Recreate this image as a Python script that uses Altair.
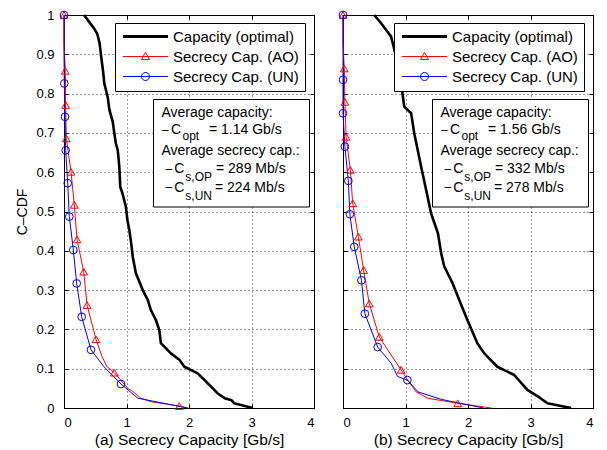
import altair as alt
import pandas as pd

FONT = "Liberation Sans"
SERIES = ["Capacity (optimal)", "Secrecy Cap. (AO)", "Secrecy Cap. (UN)"]
COLORS = ["black", "red", "blue"]
X_TICKS = [0, 1, 2, 3, 4]
Y_TICKS = [0, 0.1, 0.2, 0.3, 0.4, 0.5, 0.6, 0.7, 0.8, 0.9, 1]
Y_TITLE = "C\u2013CDF"

# ---------------- panel (a) ----------------
A_TITLE = "(a) Secrecy Capacity [Gb/s]"
A_CAP_X = [0.32, 0.48, 0.53, 0.57, 0.59, 0.625, 0.645, 0.70, 0.725, 0.78, 0.805, 0.83, 0.86, 0.885,
           0.90, 0.935, 0.99, 1.015, 1.045, 1.075, 1.10, 1.15, 1.26, 1.34, 1.39, 1.47, 1.525, 1.55,
           1.71, 1.85, 1.925, 2.14, 2.30, 2.46, 2.57, 2.68, 2.72, 3.02]
A_CAP_Y = [1.0, 0.966, 0.953, 0.928, 0.90, 0.857, 0.826, 0.79, 0.760, 0.728, 0.699, 0.673, 0.656, 0.614,
           0.563, 0.546, 0.512, 0.478, 0.453, 0.419, 0.385, 0.343, 0.30, 0.275, 0.249, 0.224, 0.198, 0.165,
           0.139, 0.122, 0.105, 0.088, 0.063, 0.037, 0.025, 0.020, 0.012, 0.0]
A_AO_X = [0.0, 0.0, 0.02, 0.027, 0.037, 0.112, 0.165, 0.208, 0.315, 0.368, 0.512, 0.61, 0.69, 0.805,
          1.02, 1.10, 1.23, 1.39, 1.845, 1.98]
A_AO_Y = [1.0, 0.93, 0.858, 0.771, 0.686, 0.601, 0.517, 0.429, 0.347, 0.262, 0.175, 0.13, 0.105, 0.090,
          0.05, 0.042, 0.025, 0.016, 0.005, 0.0]
A_AOM_X = [0.0, 0.02, 0.027, 0.037, 0.112, 0.165, 0.208, 0.315, 0.368, 0.512, 0.805, 1.845]
A_AOM_Y = [1.0, 0.858, 0.771, 0.686, 0.601, 0.517, 0.429, 0.347, 0.262, 0.175, 0.090, 0.005]
A_UN_X = [0.0, 0.0, 0.005, 0.016, 0.027, 0.059, 0.085, 0.149, 0.203, 0.283, 0.432, 0.64, 0.912,
          1.18, 1.98]
A_UN_Y = [1.0, 0.9, 0.826, 0.741, 0.656, 0.572, 0.487, 0.402, 0.317, 0.232, 0.148, 0.105, 0.061,
          0.025, 0.0]
A_UNM_X = [0.0, 0.005, 0.016, 0.027, 0.059, 0.085, 0.149, 0.203, 0.283, 0.432, 0.912]
A_UNM_Y = [1.0, 0.826, 0.741, 0.656, 0.572, 0.487, 0.402, 0.317, 0.232, 0.148, 0.061]
A_NOTES = ["Average capacity:", "= 1.14 Gb/s", "Average secrecy cap.:", "= 289 Mb/s", "= 224 Mb/s"]

# ---------------- panel (b) ----------------
B_TITLE = "(b) Secrecy Capacity [Gb/s]"
B_CAP_X = [0.50, 0.61, 0.77, 0.85, 0.93, 0.98, 1.09, 1.14, 1.25, 1.33, 1.41, 1.52, 1.57, 1.62,
           1.755, 1.86, 1.99, 2.15, 2.26, 2.47, 2.74, 2.95, 3.16, 3.27, 3.65]
B_CAP_Y = [1.0, 0.979, 0.945, 0.894, 0.826, 0.767, 0.75, 0.699, 0.614, 0.555, 0.495, 0.444, 0.394, 0.36,
           0.317, 0.275, 0.224, 0.165, 0.139, 0.105, 0.084, 0.046, 0.025, 0.012, 0.0]
B_AO_X = [0.0, 0.0, 0.02, 0.03, 0.05, 0.117, 0.155, 0.245, 0.33, 0.42, 0.58, 0.715, 0.93, 1.035,
          1.17, 1.355, 1.835, 2.37]
B_AO_Y = [1.0, 0.93, 0.864, 0.779, 0.690, 0.606, 0.521, 0.436, 0.351, 0.266, 0.181, 0.148, 0.097, 0.071,
          0.041, 0.025, 0.012, 0.0]
B_AOM_X = [0.0, 0.02, 0.03, 0.05, 0.117, 0.155, 0.245, 0.33, 0.42, 0.58, 0.93, 1.835]
B_AOM_Y = [1.0, 0.864, 0.779, 0.690, 0.606, 0.521, 0.436, 0.351, 0.266, 0.181, 0.097, 0.012]
B_UN_X = [0.0, 0.0, 0.0, 0.03, 0.085, 0.11, 0.18, 0.295, 0.35, 0.555, 0.77, 0.875, 1.03, 1.2, 1.57, 2.25]
B_UN_Y = [1.0, 0.835, 0.75, 0.665, 0.578, 0.493, 0.41, 0.325, 0.24, 0.155, 0.114, 0.08, 0.071, 0.041,
          0.022, 0.0]
B_UNM_X = [0.0, 0.0, 0.0, 0.03, 0.085, 0.11, 0.18, 0.295, 0.35, 0.555, 1.03]
B_UNM_Y = [1.0, 0.835, 0.75, 0.665, 0.578, 0.493, 0.41, 0.325, 0.24, 0.155, 0.071]
B_NOTES = ["Average capacity:", "= 1.56 Gb/s", "Average secrecy cap.:", "= 332 Mb/s", "= 278 Mb/s"]

SUBS = ["opt", "s,OP", "s,UN"]
DASH = "\u2013"
C = "C"

LEGEND_SHAPES = [
    "M-4.5,-0.2L4.5,-0.2M-4.5,0L4.5,0M-4.5,0.2L4.5,0.2",
    "M-4.5,0L4.5,0M0,-0.85L0.8,0.6L-0.8,0.6Z",
    "M-4.5,0L4.5,0M-0.8,0A0.8,0.8 0 1,0 0.8,0A0.8,0.8 0 1,0 -0.8,0",
]


def frame(xs, ys):
    return pd.DataFrame({"x": xs, "y": ys, "i": list(range(len(xs)))})


ONE = pd.DataFrame({"k": [0]})


def text(s, x, y, size=14):
    return alt.Chart(ONE).mark_text(
        align="left", baseline="alphabetic", font=FONT, fontSize=size, color="black"
    ).encode(x=alt.value(x), y=alt.value(y), text=alt.value(s))


def tick_axis(orient, values):
    return alt.Axis(orient=orient, values=values, grid=False, ticks=True, tickSize=4,
                    tickColor="black", tickWidth=1, offset=-4, domain=False, labels=False, title=None)


def panel(cap, ao, aom, un, unm, notes, xtitle, ylabels):
    xs = alt.Scale(domain=[0, 4], nice=False, zero=False)
    ys = alt.Scale(domain=[0, 1], nice=False, zero=False)
    main_x = alt.Axis(orient="bottom", values=X_TICKS, grid=True, gridColor="black", gridDash=[1, 3],
                      gridOpacity=0.8, gridWidth=1, ticks=False, domain=False, labels=True,
                      labelFontSize=13, labelPadding=8, labelFont=FONT, labelColor="black",
                      title=xtitle, titleFont=FONT, titleFontSize=15.5, titleFontWeight="normal",
                      titleColor="black", titlePadding=3)
    if ylabels:
        main_y = alt.Axis(orient="left", values=Y_TICKS, grid=True, gridColor="black", gridDash=[1, 3],
                          gridOpacity=0.8, gridWidth=1, ticks=False, domain=False, labels=True,
                          format="~g", labelFontSize=13, labelPadding=10, labelFont=FONT,
                          labelColor="black", title=Y_TITLE, titleFont=FONT, titleFontSize=14,
                          titleFontWeight="normal", titleColor="black", titlePadding=6)
    else:
        main_y = alt.Axis(orient="left", values=Y_TICKS, grid=True, gridColor="black", gridDash=[1, 3],
                          gridOpacity=0.8, gridWidth=1, ticks=False, domain=False, labels=False,
                          title=None)

    cap_l = alt.Chart(frame(*cap)).mark_line(color="black", strokeWidth=2.6, strokeJoin="round").encode(
        x=alt.X("x:Q", scale=xs, axis=main_x), y=alt.Y("y:Q", scale=ys, axis=main_y), order="i:Q")
    ao_l = alt.Chart(frame(*ao)).mark_line(color="red", strokeWidth=1).encode(
        x=alt.X("x:Q", scale=xs, axis=tick_axis("bottom", X_TICKS)),
        y=alt.Y("y:Q", scale=ys, axis=tick_axis("left", Y_TICKS)), order="i:Q")
    un_l = alt.Chart(frame(*un)).mark_line(color="blue", strokeWidth=1).encode(
        x=alt.X("x:Q", scale=xs, axis=tick_axis("top", X_TICKS)),
        y=alt.Y("y:Q", scale=ys, axis=tick_axis("right", Y_TICKS)), order="i:Q")
    ao_m = alt.Chart(frame(*aom)).mark_point(shape="triangle-up", filled=False, color="red", size=60,
                                             strokeWidth=1, opacity=1).encode(
        x=alt.X("x:Q", scale=xs, axis=None), y=alt.Y("y:Q", scale=ys, axis=None))
    un_m = alt.Chart(frame(*unm)).mark_point(shape="circle", filled=False, color="blue", size=60,
                                             strokeWidth=1, opacity=1).encode(
        x=alt.X("x:Q", scale=xs, axis=None), y=alt.Y("y:Q", scale=ys, axis=None))

    leg_df = pd.DataFrame({"series": SERIES, "x": [cap[0][0], ao[0][0], un[0][0]],
                           "y": [cap[1][0], ao[1][0], un[1][0]]})
    legend = alt.Legend(title=None, orient="none", legendX=51, legendY=8, direction="vertical",
                        fillColor="white", strokeColor="black", padding=6, symbolSize=100,
                        symbolStrokeWidth=1, symbolOpacity=1, symbolOffset=17, labelOffset=20,
                        labelFont=FONT, labelFontSize=15, labelColor="black", labelLimit=400,
                        rowPadding=4, symbolFillColor="transparent")
    leg_l = alt.Chart(leg_df).mark_point(filled=False, opacity=0).encode(
        x=alt.X("x:Q", scale=xs, axis=None), y=alt.Y("y:Q", scale=ys, axis=None),
        color=alt.Color("series:N", scale=alt.Scale(domain=SERIES, range=COLORS), legend=legend),
        shape=alt.Shape("series:N", scale=alt.Scale(domain=SERIES, range=LEGEND_SHAPES), legend=legend))

    box = alt.Chart(ONE).mark_rect(fill="white", stroke="black", strokeWidth=1).encode(
        x=alt.value(89.5), x2=alt.value(245.5), y=alt.value(84.5), y2=alt.value(192))

    texts = [
        text(notes[0], 97.5, 101.7),
        text(DASH, 98, 118.7, 12), text(C, 107, 119.3), text(SUBS[0], 118.5, 124.5, 12),
        text(notes[1], 145, 119.3),
        text(notes[2], 97.5, 140),
        text(DASH, 101.5, 157.7, 12), text(C, 110.3, 158.3), text(SUBS[1], 121.3, 165.5, 12),
        text(notes[3], 152, 158.3),
        text(DASH, 101.5, 176.1, 12), text(C, 110.3, 176.7), text(SUBS[2], 121.3, 185, 12),
        text(notes[4], 151, 176.7),
    ]
    return alt.layer(cap_l, ao_l, un_l, ao_m, un_m, leg_l, box, *texts).resolve_axis(
        x="independent", y="independent").properties(width=250, height=393)


left = panel((A_CAP_X, A_CAP_Y), (A_AO_X, A_AO_Y), (A_AOM_X, A_AOM_Y), (A_UN_X, A_UN_Y),
             (A_UNM_X, A_UNM_Y), A_NOTES, A_TITLE, True)
right = panel((B_CAP_X, B_CAP_Y), (B_AO_X, B_AO_Y), (B_AOM_X, B_AOM_Y), (B_UN_X, B_UN_Y),
              (B_UNM_X, B_UNM_Y), B_NOTES, B_TITLE, False)

chart = alt.hconcat(left, right, spacing=29, bounds="flush").resolve_scale(
    color="independent", shape="independent").resolve_legend(
    color="independent", shape="independent").properties(
    padding={"left": 7, "top": 0, "right": 5, "bottom": 5}, background="white"
).configure_view(stroke="black", strokeWidth=1)

chart.save("out.html", embed_options={"renderer": "svg", "actions": False})
